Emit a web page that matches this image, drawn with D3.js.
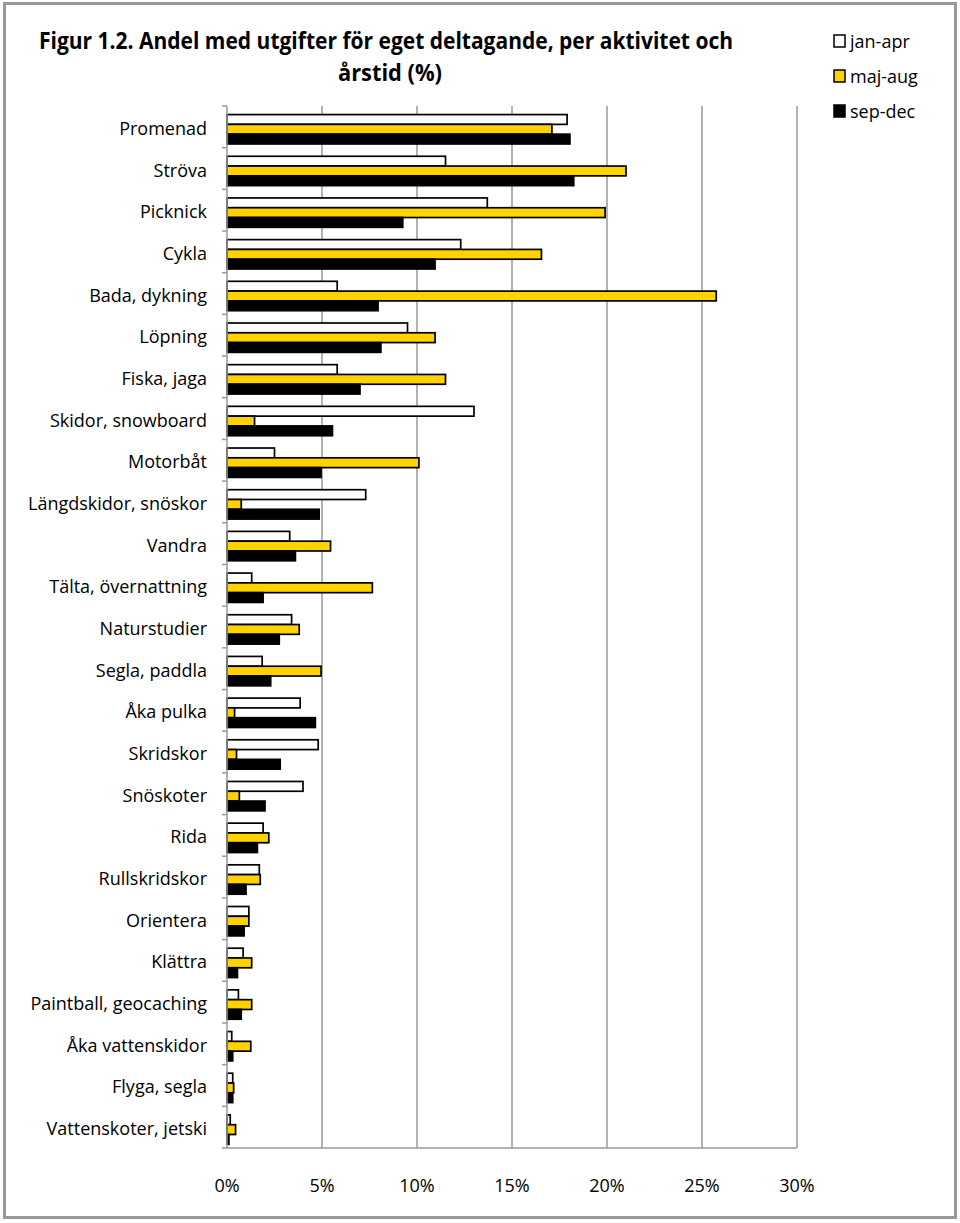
<!DOCTYPE html>
<html><head><meta charset="utf-8">
<script src="https://cdn.jsdelivr.net/npm/d3@7"></script>
<style>body{margin:0;background:#fff}svg{display:block}</style>
</head><body>
<script>
const categories = ["Promenad","Ströva","Picknick","Cykla","Bada, dykning","Löpning","Fiska, jaga","Skidor, snowboard","Motorbåt","Längdskidor, snöskor","Vandra","Tälta, övernattning","Naturstudier","Segla, paddla","Åka pulka","Skridskor","Snöskoter","Rida","Rullskridskor","Orientera","Klättra","Paintball, geocaching","Åka vattenskidor","Flyga, segla","Vattenskoter, jetski"];
const seriesNames = ["jan-apr","maj-aug","sep-dec"];
const janApr = [17.9,11.5,13.7,12.3,5.8,9.5,5.8,13.0,2.5,7.3,3.3,1.3,3.4,1.85,3.85,4.8,4.0,1.9,1.7,1.15,0.85,0.6,0.25,0.3,0.17];
const majAug = [17.1,21.0,19.9,16.55,25.75,10.95,11.5,1.45,10.1,0.75,5.45,7.65,3.8,4.95,0.4,0.5,0.65,2.2,1.75,1.15,1.3,1.3,1.25,0.35,0.45];
const sepDec = [18.05,18.25,9.25,10.95,7.95,8.1,7.0,5.55,4.95,4.85,3.6,1.9,2.75,2.3,4.65,2.8,2.0,1.6,1.0,0.9,0.55,0.75,0.3,0.3,0.1];
const xTicks = [0,5,10,15,20,25,30];
const colors = ["#ffffff","#ffd200","#000000"];

const W=960,H=1223;
const svg=d3.select("body").append("svg").attr("width",W).attr("height",H);
svg.append("rect").attr("x",4.5).attr("y",3.5).attr("width",951).attr("height",1214).attr("fill","#fff").attr("stroke","#999").attr("stroke-width",3);

const x=d3.scaleLinear().domain([0,30]).range([227,797]);
const y=d3.scaleBand().domain(categories).range([106,1148]);
const bw=y.bandwidth();
const ys=d3.scaleBand().domain(seriesNames).range([bw*0.17+1.5,bw*0.17+1.5+bw*0.705]);

// gridlines
svg.append("g").selectAll("line").data(xTicks.slice(1)).join("line")
 .attr("x1",d=>x(d)).attr("x2",d=>x(d)).attr("y1",106).attr("y2",1148)
 .attr("stroke","#999").attr("stroke-width",1.5);

// x axis line
svg.append("line").attr("x1",x(0)).attr("x2",x(30)).attr("y1",1148).attr("y2",1148).attr("stroke","#999").attr("stroke-width",1.5);
// x tick labels
svg.append("g").selectAll("text").data(xTicks).join("text")
 .attr("x",d=>x(d)).attr("y",1192).attr("text-anchor","middle")
 .attr("font-family","Open Sans").attr("font-size",18).attr("fill","#000")
 .text(d=>d+"%");

// bars
const data=[janApr,majAug,sepDec];
seriesNames.forEach((s,si)=>{
  svg.append("g").selectAll("rect").data(categories).join("rect")
   .attr("x",x(0)).attr("y",(c)=>y(c)+ys(s))
   .attr("width",(c,i)=>x(data[si][i])-x(0)).attr("height",ys.bandwidth())
   .attr("fill",colors[si]).attr("stroke","#000").attr("stroke-width",1.7);
});

// y axis
svg.append("line").attr("x1",x(0)).attr("x2",x(0)).attr("y1",106).attr("y2",1148).attr("stroke","#999").attr("stroke-width",1.5);
const bounds=categories.map(c=>y(c)).concat([1148]);
svg.append("g").selectAll("line").data(bounds).join("line")
 .attr("x1",x(0)-5).attr("x2",x(0)).attr("y1",d=>d).attr("y2",d=>d).attr("stroke","#999").attr("stroke-width",1.5);
svg.append("g").selectAll("text").data(categories).join("text")
 .attr("x",207).attr("y",c=>y(c)+bw/2+8).attr("text-anchor","end")
 .attr("font-family","Open Sans").attr("font-size",18).attr("fill","#000")
 .text(c=>c);

// title
const title=svg.append("g").attr("font-family","Open Sans").attr("font-weight","bold").attr("font-size",23).attr("fill","#000").attr("text-anchor","middle");
title.append("text").attr("x",386).attr("y",49).attr("textLength",694).attr("lengthAdjust","spacingAndGlyphs").text("Figur 1.2. Andel med utgifter för eget deltagande, per aktivitet och");
title.append("text").attr("x",390).attr("y",81).attr("textLength",104).attr("lengthAdjust","spacingAndGlyphs").text("årstid (%)");

// legend
const lg=svg.append("g");
seriesNames.forEach((s,i)=>{
  const ly=35+i*35;
  lg.append("rect").attr("x",834).attr("y",ly).attr("width",11).attr("height",12).attr("fill",colors[i]).attr("stroke","#000").attr("stroke-width",1.5);
  lg.append("text").attr("x",850).attr("y",ly+13).attr("font-family","Open Sans").attr("font-size",18).attr("fill","#000").text(s);
});
</script>
</body></html>
